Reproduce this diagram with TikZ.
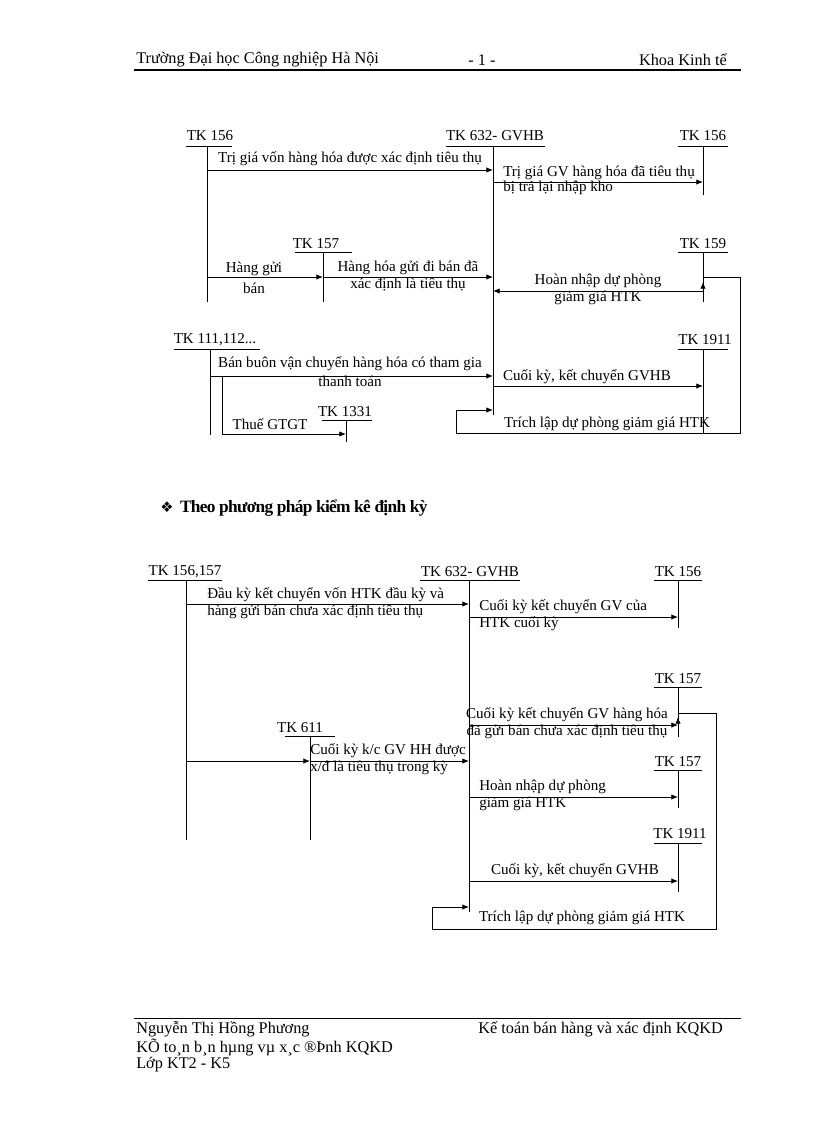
\documentclass[tikz,border=0pt]{standalone}
\usepackage{fontspec}
\setmainfont{Liberation Serif}
\newfontfamily\djv{DejaVu Sans}
\usetikzlibrary{arrows.meta}
\begin{document}
\begin{tikzpicture}[x=0.75pt,y=-0.75pt,
  lbl/.style={font=\fontsize{11.3}{13}\selectfont,inner sep=0pt},
  tk/.style={lbl},
  acc/.style={line width=0.6pt},
  arr/.style={line width=0.6pt,-{Latex[length=5pt,width=4pt]}},
  txt/.style={font=\fontsize{12.2}{14}\selectfont,inner sep=0pt}]
\useasboundingbox (0,0) rectangle (816,1123);
% header
\node[txt,anchor=west] (h1) at (136,60) {Trường  Đại học Công nghiệp  Hà Nội};
\node[txt] (h2) at (482,60) {- 1 -};
\node[txt,anchor=east] (h3) at (727,60) {Khoa Kinh tế};
\draw[line width=1pt] (134,70) -- (741,70);
% ---------- top diagram
\node[tk] (a156) at (210,136) {TK 156};
\draw[acc] (186,146) -- (232,146); \coordinate (a156t) at (207,146); \coordinate (a156b) at (207,302);
\draw[acc] (a156t) -- (a156b);
\node[tk] (a632) at (495,136) {TK 632- GVHB};
\draw[acc] (446,146) -- (545,146); \coordinate (a632t) at (493,146); \coordinate (a632b) at (493,415);
\draw[acc] (a632t) -- (a632b);
\node[tk] (a156r) at (703,136) {TK 156};
\draw[acc] (678,146) -- (728,146); \draw[acc] (703,146) -- (703,195);
\draw[arr] (207,170) -- (493,170);
\node[lbl] (l1) at (350,159) {Trị giá vốn hàng hóa được xác định tiêu thụ};
\draw[arr] (493,182) -- (703,182);
\node[lbl,anchor=west] (l2) at (503,173) {Trị giá GV hàng hóa đã tiêu thụ};
\node[lbl,anchor=west] (l3) at (503,188) {bị trả lại nhập kho};
\node[tk] (a157) at (316,244) {TK 157};
\draw[acc] (295,252) -- (352,252); \draw[acc] (323,252) -- (323,302);
\draw[arr] (207,277) -- (323,277);
\node[lbl] (l4) at (254,269) {Hàng gửi};
\node[lbl] (l5) at (254,288) {bán};
\draw[arr] (323,277) -- (493,277);
\node[lbl] (l6) at (408,268) {Hàng hóa gửi đi bán đã};
\node[lbl] (l7) at (408,285) {xác định là tiêu thụ};
\node[tk] (a159) at (703,244) {TK 159};
\draw[acc] (678,252) -- (728,252); \draw[acc] (703,252) -- (703,302);
\draw[arr] (703,291) -- (493,291);
\node[lbl] (l8) at (598,281) {Hoàn nhập dự phòng};
\node[lbl] (l9) at (598,298) {giảm giá HTK};
\node[tk] (a111) at (215,340) {TK 111,112...};
\draw[acc] (174,349) -- (260,349); \draw[acc] (210,349) -- (210,435);
\draw[arr] (210,376) -- (493,376);
\node[lbl] (l10) at (350,364) {Bán buôn vận chuyển hàng hóa có tham gia};
\node[lbl] (l11) at (350,381) {thanh toán};
\node[tk] (a1911) at (705,340) {TK 1911};
\draw[acc] (678,349) -- (728,349); \draw[acc] (703,349) -- (703,433);
\draw[arr] (493,386) -- (703,386);
\node[lbl] (l12) at (587,377) {Cuối kỳ, kết chuyển GVHB};
\node[tk] (a1331) at (345,412) {TK 1331};
\draw[acc] (322,420) -- (372,420); \draw[acc] (346,420) -- (346,442);
\draw[arr] (222,376) -- (222,434) -- (346,434);
\node[lbl] (l13) at (270,424) {Thuế GTGT};
\draw[arr] (703,277) -- (740,277) -- (740,433) -- (456,433) -- (456,410) -- (493,410);
\draw[arr] (703,293) -- (703,282);
\node[lbl] (l14) at (607,424) {Trích lập dự phòng giảm giá HTK};
% heading
\node[txt,anchor=west] (hd) at (160,508) {{\djv\fontsize{11}{12}\selectfont ❖}\hspace{5pt}\textbf{\fontsize{13}{15}\selectfont\addfontfeature{LetterSpace=-4}Theo phương pháp kiểm kê định kỳ}};
% ---------- bottom diagram
\node[tk] (b156) at (185,572) {TK 156,157};
\draw[acc] (148,580) -- (222,580); \draw[acc] (186,580) -- (186,840);
\node[tk] (b632) at (470,572) {TK 632- GVHB};
\draw[acc] (420,580) -- (520,580); \draw[acc] (469,580) -- (469,912);
\node[tk] (b156r) at (678,572) {TK 156};
\draw[acc] (654,580) -- (702,580); \draw[acc] (678,580) -- (678,628);
\draw[arr] (186,604) -- (469,604);
\node[lbl,anchor=west] (m1) at (207,595) {Đầu kỳ kết chuyển vốn HTK đầu kỳ và};
\node[lbl,anchor=west] (m2) at (207,612) {hàng gửi bán chưa xác định tiêu thụ};
\draw[arr] (469,617) -- (678,617);
\node[lbl,anchor=west] (m3) at (479,607) {Cuối kỳ kết chuyển GV của};
\node[lbl,anchor=west] (m4) at (479,624) {HTK cuối kỳ};
\node[tk] (b157) at (678,679) {TK 157};
\draw[acc] (654,687) -- (702,687); \draw[acc] (678,687) -- (678,737);
\draw[arr] (469,725) -- (678,725);
\node[lbl] (m5) at (567,715) {Cuối kỳ kết chuyển GV hàng hóa};
\node[lbl] (m6) at (567,732) {đã gửi bán chưa xác định tiêu thụ};
\node[tk] (b611) at (300,728) {TK 611};
\draw[acc] (285,736) -- (335,736); \draw[acc] (310,736) -- (310,840);
\draw[arr] (186,761) -- (310,761);
\draw[arr] (310,761) -- (469,761);
\node[lbl,anchor=west] (m7) at (310,751) {Cuối kỳ k/c GV HH được};
\node[lbl,anchor=west] (m8) at (310,768) {x/đ là tiêu thụ trong kỳ};
\node[tk] (b157b) at (678,762) {TK 157};
\draw[acc] (654,770) -- (702,770); \draw[acc] (678,770) -- (678,808);
\draw[arr] (469,797) -- (678,797);
\node[lbl,anchor=west] (m9) at (479,787) {Hoàn nhập dự phòng};
\node[lbl,anchor=west] (m10) at (479,804) {giảm giá HTK};
\node[tk] (b1911) at (680,834) {TK 1911};
\draw[acc] (654,843) -- (702,843); \draw[acc] (678,843) -- (678,892);
\draw[arr] (469,881) -- (678,881);
\node[lbl] (m11) at (575,871) {Cuối kỳ, kết chuyển GVHB};
\draw[arr] (678,713) -- (716,713) -- (716,929) -- (432,929) -- (432,907) -- (469,907);
\draw[arr] (678,728) -- (678,717);
\node[lbl] (m12) at (582,918) {Trích lập dự phòng giảm giá HTK};
% footer
\draw[line width=0.6pt] (134,1018) -- (741,1018);
\node[txt,anchor=west] (f1) at (136,1029) {Nguyễn  Thị Hồng Phương};
\node[txt,anchor=east] (f2) at (723,1029) {Kế toán bán hàng và xác định KQKD};
\node[txt,anchor=west] (f3) at (136,1047) {KÕ to¸n  b¸n hµng  vµ x¸c ®Þnh KQKD};
\node[txt,anchor=west] (f4) at (136,1065) {Lớp KT2 - K5};
\end{tikzpicture}
\end{document}
